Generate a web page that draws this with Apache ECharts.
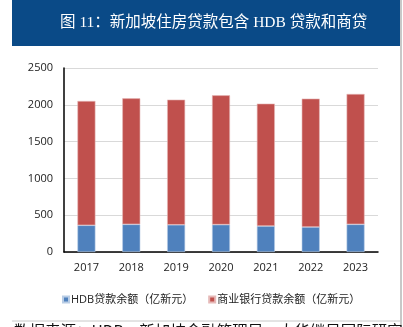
<!DOCTYPE html>
<html><head><meta charset="utf-8">
<script src="https://cdn.jsdelivr.net/npm/echarts@6/dist/echarts.min.js"></script>
<style>html,body{margin:0;padding:0;background:#fff}#c{width:403px;height:327px}</style>
</head><body><div id="c"></div>
<script>
const years = ['2017','2018','2019','2020','2021','2022','2023'];
const hdbLoans = [363, 376, 370, 372, 353, 340, 376];
const bankLoans = [1689, 1712, 1700, 1757, 1663, 1744, 1771];
const seriesNames = ['HDB贷款余额（亿新元）', '商业银行贷款余额（亿新元）'];
const titleText = '图 11：新加坡住房贷款包含 HDB 贷款和商贷';
const sourceText = '数据来源：HDB，新加坡金融管理局，大华继显国际研究';

const chart = echarts.init(document.getElementById('c'), null, {renderer:'canvas'});
const axisFont = 'Open Sans, Liberation Sans, sans-serif';
chart.setOption({
  animation:false,
  backgroundColor:'#fff',
  grid:{left:64, right:25, top:68, bottom:75, containLabel:false},
  legend:{
    data:seriesNames, left:57, top:289, icon:'rect', itemWidth:6, itemHeight:6, itemGap:15,
    textStyle:{fontSize:11, color:'#222', fontFamily:'Open Sans, Noto Sans CJK SC, sans-serif', padding:[0,0,0,-3]}
  },
  xAxis:{
    type:'category', data:years,
    axisLine:{lineStyle:{color:'#000', width:1.5}},
    axisTick:{show:false},
    axisLabel:{fontSize:11, color:'#222', margin:10, fontFamily:axisFont}
  },
  yAxis:{
    type:'value', min:0, max:2500, interval:500,
    axisLine:{show:true, lineStyle:{color:'#000', width:1.5}},
    axisTick:{show:false},
    splitLine:{lineStyle:{color:'#d9d9d9', width:1}},
    axisLabel:{fontSize:11, color:'#222', margin:11, fontFamily:axisFont, formatter:function(v){return String(v);}}
  },
  series:[
    {name:seriesNames[0], type:'bar', stack:'a', data:hdbLoans, barWidth:18,
     itemStyle:{color:'#4f81bd', borderColor:'#b9cde5', borderWidth:0.6}},
    {name:seriesNames[1], type:'bar', stack:'a', data:bankLoans, barWidth:18,
     itemStyle:{color:'#c0504d', borderColor:'#e6b9b8', borderWidth:0.6}}
  ],
  graphic:[
    {type:'rect', shape:{x:12, y:0, width:389, height:46}, style:{fill:'#0a4a87'}, z:10},
    {type:'text', x:60, y:23, style:{text:titleText, fill:'#fff', fontSize:15.5,
      fontFamily:'Liberation Serif, Noto Sans CJK SC, serif', verticalAlign:'middle'}, z:11},
    {type:'rect', shape:{x:400, y:0, width:2, height:327}, style:{fill:'#c8c8c8'}, z:10},
    {type:'line', shape:{x1:12, y1:321, x2:400, y2:321}, style:{stroke:'#c8c8c8', lineWidth:1}, z:10},
    {type:'text', x:14, y:323, style:{text:sourceText, fill:'#111', fontSize:15.5,
      fontFamily:'Noto Sans CJK SC, sans-serif', verticalAlign:'top'}, z:11}
  ]
});
</script></body></html>
